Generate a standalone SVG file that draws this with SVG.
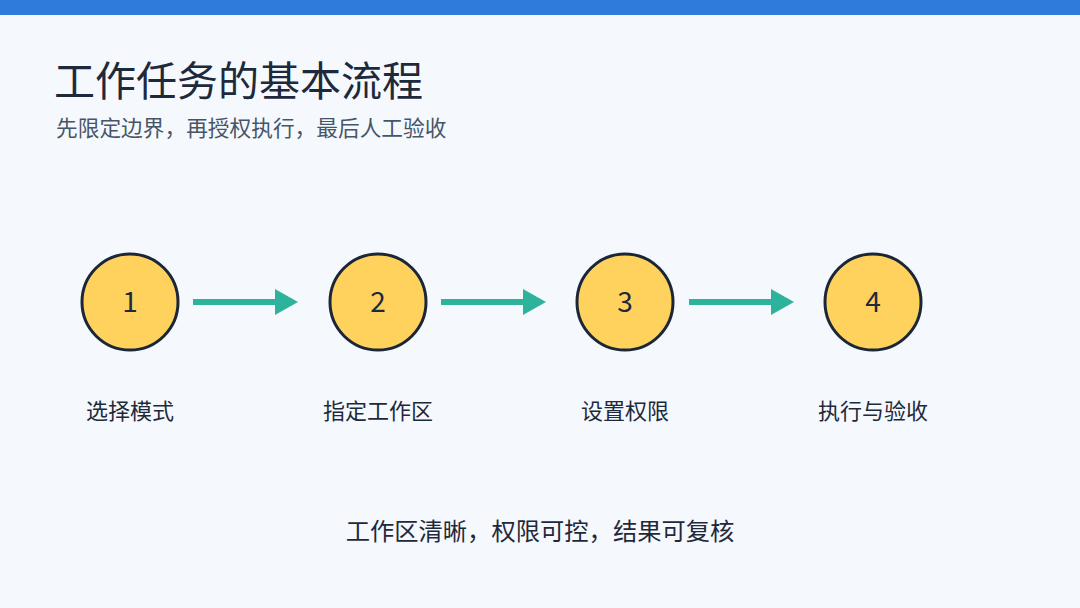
<svg xmlns="http://www.w3.org/2000/svg" width="1080" height="608" viewBox="0 0 1080 608">
<style>
text{font-family:"Noto Sans CJK SC","Noto Sans",sans-serif}
.title{font-size:41px;fill:#1E293B}
.sub{font-size:21.7px;fill:#475569}
.circ{fill:#FFD25E;stroke:#1B2638;stroke-width:3}
.num{font-size:28px;fill:#1E293B;text-anchor:middle}
.lab{font-size:22px;fill:#1E293B;text-anchor:middle}
.foot{font-size:24.3px;fill:#1E293B;text-anchor:middle}
.conn{stroke:#2DB39B;stroke-width:6;fill:none}
.head{fill:#2DB39B}
</style>
<rect width="1080" height="608" fill="#F5F9FD"/>
<rect width="1080" height="15" fill="#2F7BDC"/>
<text class="title" x="54" y="96">工作任务的基本流程</text>
<text class="sub" x="56" y="136">先限定边界，再授权执行，最后人工验收</text>
<g id="connectors">
<line class="conn" x1="193" y1="302" x2="280" y2="302"/>
<polygon class="head" points="275,289 298,302 275,315"/>
<line class="conn" x1="441" y1="302" x2="528" y2="302"/>
<polygon class="head" points="523,289 546,302 523,315"/>
<line class="conn" x1="689" y1="302" x2="776" y2="302"/>
<polygon class="head" points="771,289 794,302 771,315"/>
</g>
<g id="node1"><circle class="circ" cx="130" cy="302" r="48"/><text class="num" x="130" y="312">1</text><text class="lab" x="130" y="419">选择模式</text></g>
<g id="node2"><circle class="circ" cx="378" cy="302" r="48"/><text class="num" x="378" y="312">2</text><text class="lab" x="378" y="419">指定工作区</text></g>
<g id="node3"><circle class="circ" cx="625" cy="302" r="48"/><text class="num" x="625" y="312">3</text><text class="lab" x="625" y="419">设置权限</text></g>
<g id="node4"><circle class="circ" cx="873" cy="302" r="48"/><text class="num" x="873" y="312">4</text><text class="lab" x="873" y="419">执行与验收</text></g>
<text class="foot" x="540" y="540">工作区清晰，权限可控，结果可复核</text>
</svg>
